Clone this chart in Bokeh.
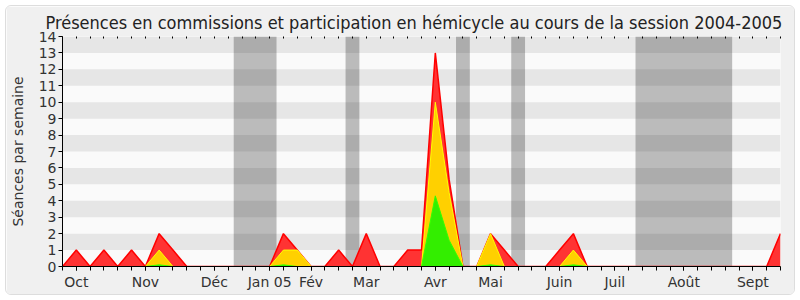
from bokeh.plotting import figure
from bokeh.models import FixedTicker, LinearAxis, Range1d
from bokeh.embed import file_html
from bokeh.resources import INLINE

weeks = list(range(53))
red = [0, 1, 0, 1, 0, 1, 0, 2, 1, 0,
       0, 0, 0, 0, 0, 0, 2, 1, 0, 0,
       1, 0, 2, 0, 0, 1, 1, 13, 5.3, 0,
       0, 2, 1, 0, 0, 0, 1, 2, 0, 0,
       0, 0, 0, 0, 0, 0, 0, 0, 0, 0,
       0, 0, 2]
yellow = [0, 0, 0, 0, 0, 0, 0, 1, 0, 0,
          0, 0, 0, 0, 0, 0, 1, 1, 0, 0,
          0, 0, 0, 0, 0, 0, 0, 10, 4.5, 0,
          0, 2, 0, 0, 0, 0, 0, 1, 0, 0,
          0, 0, 0, 0, 0, 0, 0, 0, 0, 0,
          0, 0, 0]
green = [0, 0, 0, 0, 0, 0, 0, 0.1, 0, 0,
         0, 0, 0, 0, 0, 0, 0.1, 0, 0, 0,
         0, 0, 0, 0, 0, 0, 0, 4.3, 1.6, 0,
         0, 0.1, 0, 0, 0, 0, 0, 0.1, 0, 0,
         0, 0, 0, 0, 0, 0, 0, 0, 0, 0,
         0, 0, 0]

month_pos = [1, 6, 11, 15, 18, 22, 27, 31, 36, 40, 45, 50]
month_labels = ["Oct", "Nov", "Déc", "Jan 05", "Fév", "Mar", "Avr", "Mai",
                "Juin", "Juil", "Août", "Sept"]

vac_start = [12.4, 20.5, 28.5, 32.5, 41.5]
vac_end = [15.5, 21.5, 29.5, 33.5, 48.5]

stripe_bottom = [1, 3, 5, 7, 9, 11, 13]
stripe_top = [2, 4, 6, 8, 10, 12, 14]

p = figure(width=790, height=290, output_backend="svg", toolbar_location=None,
           x_range=Range1d(0, 52), y_range=Range1d(0, 14),
           min_border_left=56, min_border_right=16, min_border_top=29,
           min_border_bottom=30,
           title="Présences en commissions et participation en hémicycle au cours de la session 2004-2005")
p.margin = (5, 5, 5, 5)
p.styles = {"border": "1px solid #dddddd", "border-radius": "6px", "overflow": "hidden"}
p.border_fill_color = "#f0f0f0"
p.background_fill_color = "#fafafa"
p.outline_line_color = None
p.xgrid.visible = False
p.ygrid.visible = False

p.title.text_font = "DejaVu Sans Condensed"
p.title.text_font_size = "18px"
p.title.text_font_style = "normal"
p.title.text_color = "#222222"
p.title.align = "left"
p.title.offset = -17
p.title.standoff = 7

# horizontal stripes
p.quad(left=0, right=52, bottom=stripe_bottom, top=stripe_top,
       fill_color="#e6e6e6", line_color=None)
# vacation bands
p.quad(left=vac_start, right=vac_end, bottom=0, top=14,
       fill_color="black", fill_alpha=0.25, line_color=None)

p.varea(x=weeks, y1=0, y2=red, fill_color="#ff3333")
p.line(weeks, red, line_color="#ff0000", line_width=1.5)
p.varea(x=weeks, y1=0, y2=yellow, fill_color="#ffd000")
p.line(weeks, yellow, line_color="#ffff00", line_width=1)
p.varea(x=weeks, y1=0, y2=green, fill_color="#33ee00")
p.line(weeks, green, line_color="#33ff00", line_width=1)

overrides = {pos: lab for pos, lab in zip(month_pos, month_labels)}

xa = p.xaxis[0]
xa.ticker = FixedTicker(ticks=month_pos, minor_ticks=weeks)
xa.major_label_overrides = overrides
xa.major_tick_in = 0
xa.major_tick_out = 4
xa.minor_tick_in = 0
xa.minor_tick_out = 4
xa.axis_line_color = "#000000"
xa.major_tick_line_color = "#000000"
xa.minor_tick_line_color = "#000000"
xa.major_label_text_font = "DejaVu Sans"
xa.major_label_text_font_size = "14px"
xa.major_label_text_color = "#333333"
xa.major_label_standoff = 3

ya = p.yaxis[0]
ya.ticker = FixedTicker(ticks=list(range(15)))
ya.minor_tick_line_color = None
ya.major_tick_in = 0
ya.major_tick_out = 4
ya.axis_line_color = "#000000"
ya.major_tick_line_color = "#000000"
ya.major_label_text_font = "DejaVu Sans"
ya.major_label_text_font_size = "14px"
ya.major_label_text_color = "#333333"
ya.major_label_standoff = 2
ya.axis_label = "Séances par semaine"
ya.axis_label_text_font = "DejaVu Sans"
ya.axis_label_text_font_size = "14px"
ya.axis_label_text_font_style = "normal"
ya.axis_label_text_color = "#333333"
ya.axis_label_standoff = 10

top = LinearAxis(ticker=FixedTicker(ticks=[], minor_ticks=weeks),
                 axis_line_color=None, major_tick_line_color=None,
                 minor_tick_in=2, minor_tick_out=0,
                 minor_tick_line_color="#000000")
p.add_layout(top, "above")

open("out.html", "w").write(file_html(p, INLINE))
